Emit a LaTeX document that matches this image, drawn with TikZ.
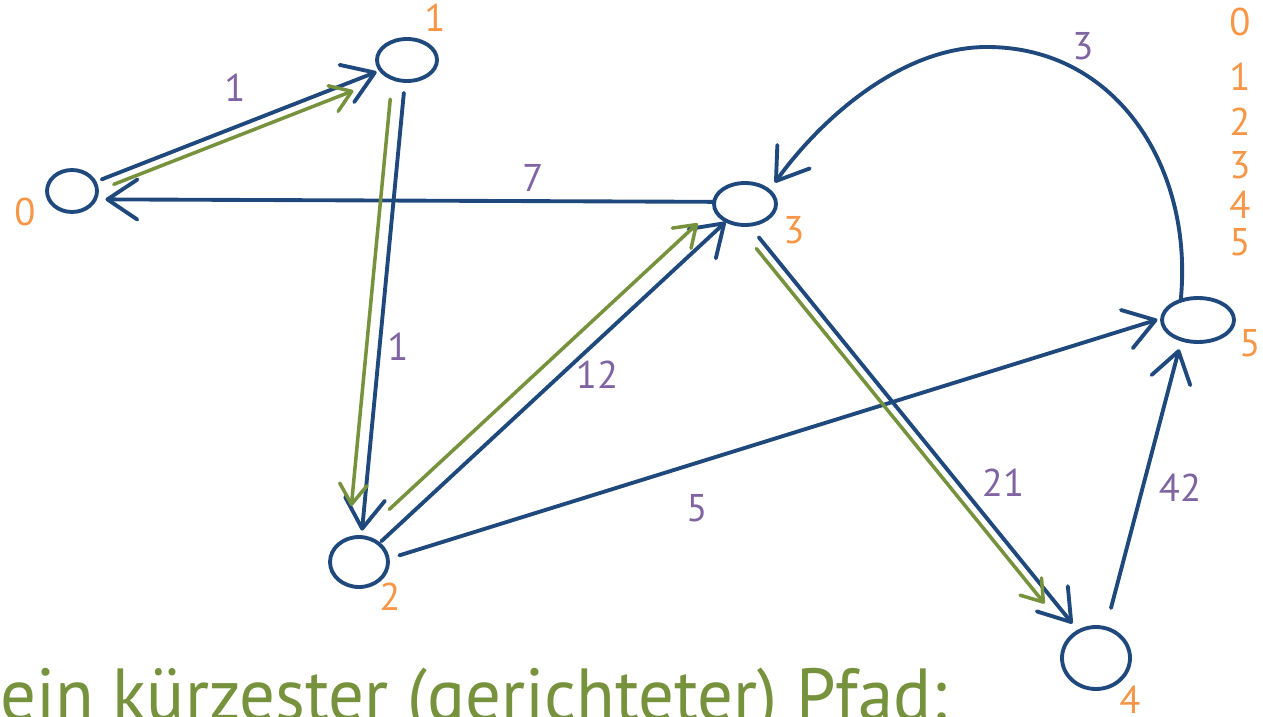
\documentclass[tikz,border=0pt]{standalone}
\usepackage{fontspec}
\setmainfont{PT Sans}
\usepackage{tikz}
\usetikzlibrary{arrows.meta,shapes.geometric}
\definecolor{grblue}{RGB}{31,73,125}
\definecolor{grgreen}{RGB}{118,146,60}
\definecolor{grpurple}{RGB}{128,100,162}
\definecolor{grorange}{RGB}{247,150,70}
\tikzset{
  grnode/.style={draw=grblue, line width=2.2pt, ellipse, inner sep=0pt, outer sep=0pt},
  grarr/.style={-{Straight Barb[length=6mm, width=8mm, round]}, line width=2.2pt, draw=grblue, line cap=round, line join=round},
  grpath/.style={-{Straight Barb[length=4mm, width=5.5mm, round]}, line width=2pt, draw=grgreen, line cap=round, line join=round},
  grweight/.style={text=grpurple, font=\fontsize{22}{24}\selectfont, inner sep=0pt},
  grlabel/.style={text=grorange, font=\fontsize{22}{24}\selectfont, inner sep=0pt}
}

\begin{document}
\begin{tikzpicture}[x=.02cm, y=-.02cm]
  \useasboundingbox (0,0) rectangle (1263,716);
  \clip (0,0) rectangle (1263,716);
  % vertices
  \node[grnode, minimum width=1.0cm, minimum height=.84cm] (n0) at (72,191) {};
  \node[grnode, minimum width=1.2cm, minimum height=.84cm] (n1) at (407,60) {};
  \node[grnode, minimum width=1.16cm, minimum height=1.0cm] (n2) at (359,562) {};
  \node[grnode, minimum width=1.24cm, minimum height=.84cm] (n3) at (745,204) {};
  \node[grnode, minimum width=1.36cm, minimum height=1.24cm] (n4) at (1096,658) {};
  \node[grnode, minimum width=1.44cm, minimum height=.88cm] (n5) at (1198,320) {};
  \node[grlabel] (l0) at (25,212) {0};
  \node[grlabel] (l1) at (435,18) {1};
  \node[grlabel] (l2) at (390,597) {2};
  \node[grlabel] (l3) at (794,230) {3};
  \node[grlabel] (l4) at (1130,700) {4};
  \node[grlabel] (l5) at (1250,343) {5};
  % edges
  \draw[grarr, shorten <=.15cm, shorten >=.09cm] (n0) -- (n1);
  \draw[grarr, shorten <=.24cm, shorten >=.13cm] (n1) -- (n2);
  \draw[grarr, shorten <=.07cm, shorten >=.03cm] (n2) -- (n3);
  \draw[grarr, shorten >=.21cm] (n3.176) -- (n0.-20);
  \draw[grarr, shorten <=.32cm, shorten >=.2cm] (n3.280) -- (n4.123);
  \draw[grarr, shorten <=.24cm, shorten >=.1cm] (n2.6) -- (n5.177);
  \draw[grarr, shorten <=.42cm, shorten >=.2cm] (n4.72) -- (n5.230);
  \draw[grarr, shorten >=.2cm] (n5.132) .. controls (1194,170) and (1118,47) .. (987,47)
    .. controls (903,47) and (823,116) .. (n3.29);
  % weights
  \node[grweight] (w01) at (235,88) {1};
  \node[grweight] (w30) at (533,178) {7};
  \node[grweight] (w12) at (398,347) {1};
  \node[grweight] (w23) at (597,375) {12};
  \node[grweight] (w25) at (697,508) {5};
  \node[grweight] (w34) at (1003,483) {21};
  \node[grweight] (w45) at (1180,488) {42};
  \node[grweight] (w53) at (1083,46) {3};
  % shortest path
  \draw[grpath, transform canvas={shift={(3.3,8.4)}}, shorten <=.34cm, shorten >=.66cm] (n0) -- (n1);
  \draw[grpath, transform canvas={shift={(-12.9,-1.2)}}, shorten <=.39cm, shorten >=.6cm] (n1) -- (n2);
  \draw[grpath, transform canvas={shift={(-12.2,-13.2)}}, shorten <=.62cm, shorten >=.46cm] (n2) -- (n3);
  \draw[grpath, transform canvas={shift={(-7.1,5.5)}}, shorten <=.47cm, shorten >=.86cm] (n3.280) -- (n4.123);
  % vertex list
  \foreach \i/\y in {0/22,1/77,2/122,3/165,4/205,5/242}
    \node[grlabel] (k\i) at (1240,\y) {\i};
  \node[text=grgreen, font=\fontsize{42}{44}\selectfont, anchor=base west, inner sep=0pt] (cap) at (0,720)
    {\scalebox{.96}[1]{ein kürzester (gerichteter) Pfad:}};
\end{tikzpicture}
\end{document}
